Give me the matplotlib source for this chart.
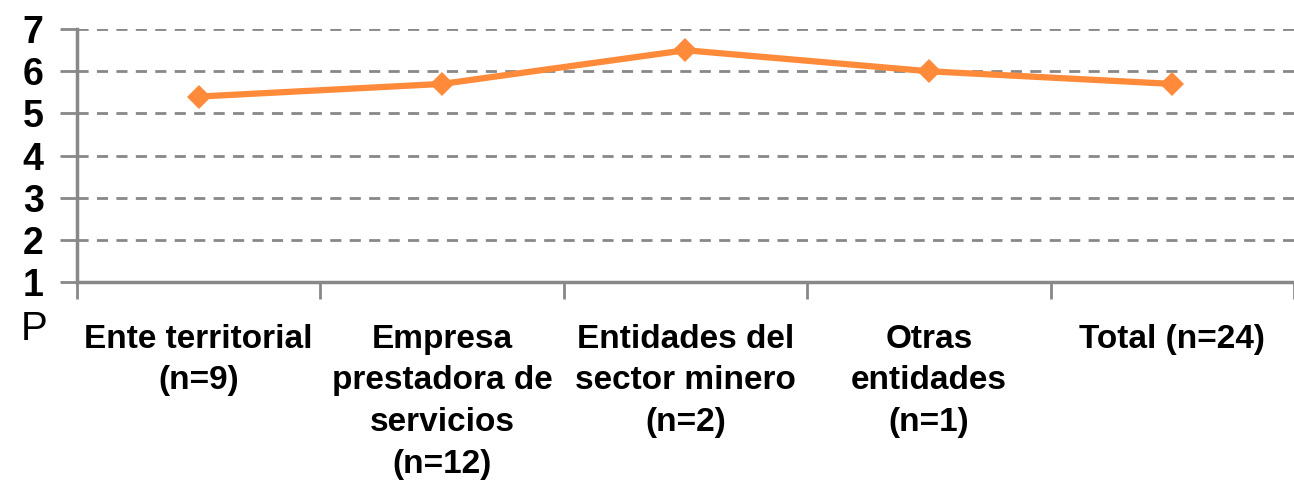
import matplotlib.pyplot as plt
import numpy as np

# Categories and mean values
categories = ['Ente territorial\n(n=9)',
              'Empresa\nprestadora de\nservicios\n(n=12)',
              'Entidades del\nsector minero\n(n=2)',
              'Otras\nentidades\n(n=1)',
              'Total (n=24)']
values = [5.4, 5.7, 6.5, 6.0, 5.7]

plt.rcParams['font.family'] = ['Liberation Sans', 'DejaVu Sans']

fig = plt.figure(figsize=(12.94, 4.86), dpi=100)
ax = fig.add_axes([0.0595, 0.42, 0.9405, 0.52])

x = np.arange(len(categories))
ax.plot(x, values, color='#ff8a3a', linewidth=4.5, marker='D', markersize=12,
        markeredgewidth=0, solid_capstyle='round')

ax.set_xlim(-0.5, len(categories) - 0.5)
ax.set_ylim(1, 7)
ax.set_yticks(range(1, 8))
ax.set_yticklabels([str(v) for v in range(1, 8)], fontsize=27, fontweight='bold')

# category labels, tick marks between categories
ax.set_xticks(x)
ax.set_xticklabels(categories, fontsize=24, fontweight='bold', linespacing=1.45,
                   va='top')
ax.tick_params(axis='x', length=0, pad=30)
ax.set_xticks(np.arange(-0.5, len(categories)), minor=True)
ax.tick_params(axis='x', which='minor', length=12, width=2, color='#888888')
ax.tick_params(axis='y', length=12, width=2, color='#888888', pad=12)

ax.grid(axis='y', linestyle='--', color='#888888', linewidth=2, dashes=(4, 3))
ax.set_axisbelow(True)
for s in ['top', 'right']:
    ax.spines[s].set_visible(False)
for s in ['left', 'bottom']:
    ax.spines[s].set_color('#888888')
    ax.spines[s].set_linewidth(2.5)

fig.text(0.016, 0.30, 'P', fontsize=29)

fig.savefig('out.png', dpi=100)
